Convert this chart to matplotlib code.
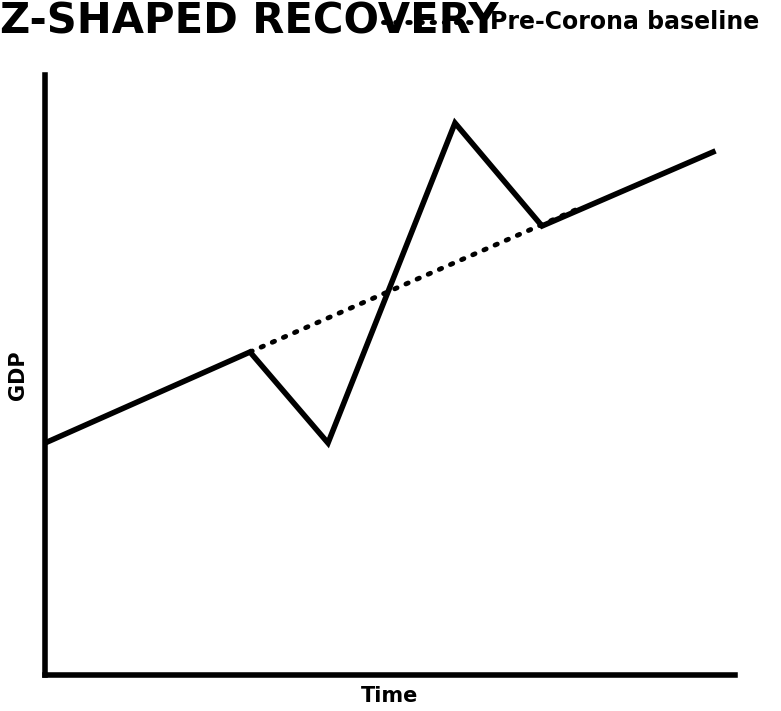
import matplotlib
matplotlib.use('Agg')
import matplotlib.pyplot as plt

# GDP path (time, gdp) in arbitrary units
time = [0, 205, 283, 410, 497, 668]
gdp = [232, 323, 232, 552, 449, 523]

# pre-corona trend
base_time = [205, 535]
base_gdp = [323, 467]

fig = plt.figure(figsize=(7.81, 7.11), dpi=100)
ax = fig.add_axes([45/781, 36/711, 690/781, 600/711])

ax.plot(time, gdp, color='black', lw=4, solid_joinstyle='miter')
ax.plot(base_time, base_gdp, color='black', lw=3.5, linestyle=(0, (0.5, 2.0)), dash_capstyle='round')

ax.set_xlim(0, 690)
ax.set_ylim(0, 600)
ax.set_xticks([])
ax.set_yticks([])
for s in ['top', 'right']:
    ax.spines[s].set_visible(False)
for s in ['left', 'bottom']:
    ax.spines[s].set_linewidth(4)

ax.set_xlabel('Time', fontsize=15, fontweight='bold', labelpad=8)
ax.set_ylabel('GDP', fontsize=15, fontweight='bold', labelpad=12)

fig.text(0.0, 1 - 22/711, 'Z-SHAPED RECOVERY', fontsize=30, fontweight='bold',
         va='center', ha='left', family=['Liberation Sans Narrow', 'DejaVu Sans'])
fig.add_artist(plt.Line2D([383/781, 478/781], [1 - 22/711, 1 - 22/711], color='black',
                          lw=3.5, linestyle=(0, (0.5, 2.0)), dash_capstyle='round'))
fig.text(490/781, 1 - 22/711, 'Pre-Corona baseline', fontsize=17, fontweight='bold',
         va='center', ha='left')

fig.savefig('out.png', dpi=100)
